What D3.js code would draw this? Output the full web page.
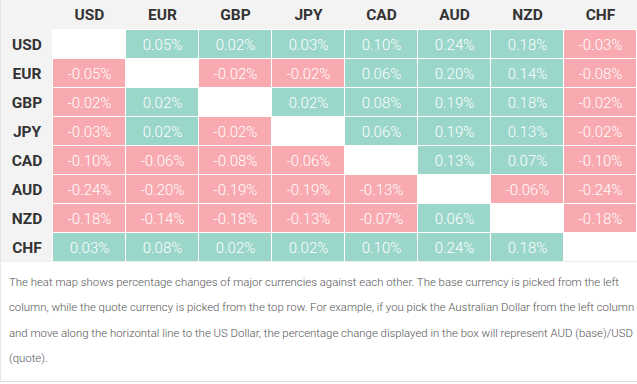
<!DOCTYPE html>
<html>
<head>
<meta charset="utf-8">
<script src="https://cdn.jsdelivr.net/npm/d3@7"></script>
<style>
  body { margin: 0; background: #fff; }
  svg { display: block; font-family: Roboto, sans-serif; }
</style>
</head>
<body>
<svg id="chart" width="637" height="384"></svg>
<script>
// currencies, base = row (left), quote = column (top)
var currencies = ["USD", "EUR", "GBP", "JPY", "CAD", "AUD", "NZD", "CHF"];

var usdRow = [null, 0.05, 0.02, 0.03, 0.10, 0.24, 0.18, -0.03];
var eurRow = [-0.05, null, -0.02, -0.02, 0.06, 0.20, 0.14, -0.08];
var gbpRow = [-0.02, 0.02, null, 0.02, 0.08, 0.19, 0.18, -0.02];
var jpyRow = [-0.03, 0.02, -0.02, null, 0.06, 0.19, 0.13, -0.02];
var cadRow = [-0.10, -0.06, -0.08, -0.06, null, 0.13, 0.07, -0.10];
var audRow = [-0.24, -0.20, -0.19, -0.19, -0.13, null, -0.06, -0.24];
var nzdRow = [-0.18, -0.14, -0.18, -0.13, -0.07, 0.06, null, -0.18];
var chfRow = [0.03, 0.08, 0.02, 0.02, 0.10, 0.24, 0.18, null];

var rows = [usdRow, eurRow, gbpRow, jpyRow, cadRow, audRow, nzdRow, chfRow];

var note = [
  "The heat map shows percentage changes of major currencies against each other. The base currency is picked from the left",
  "column, while the quote currency is picked from the top row. For example, if you pick the Australian Dollar from the left column",
  "and move along the horizontal line to the US Dollar, the percentage change displayed in the box will represent AUD (base)/USD",
  "(quote)."
];

var svg = d3.select("#chart");
var W = 637, H = 384;

var x = d3.scaleBand().domain(currencies).range([53, 637]);
var y = d3.scaleBand().domain(currencies).range([30, 262]);

// plain hyphen for negatives like the original table
var fmt = d3.formatLocale({ decimal: ".", thousands: ",", grouping: [3], currency: ["", ""], minus: "-" }).format(".2f");

// grey header row and left column
svg.append("rect").attr("x", 0).attr("y", 0).attr("width", W).attr("height", 29).attr("fill", "#f3f3f3");
svg.append("rect").attr("x", 0).attr("y", 0).attr("width", 52).attr("height", 262).attr("fill", "#f3f3f3");

// flatten
var cells = [];
rows.forEach(function (r, i) {
  r.forEach(function (v, j) {
    cells.push({ base: currencies[i], quote: currencies[j], value: v });
  });
});

var color = function (v) { return v >= 0 ? "#9ad6ca" : "#f8aab0"; };

var g = svg.append("g");
g.selectAll("rect.cell")
  .data(cells.filter(function (d) { return d.value !== null; }))
  .enter().append("rect")
  .attr("class", "cell")
  .attr("x", function (d) { return x(d.quote); })
  .attr("y", function (d) { return y(d.base); })
  .attr("width", x.bandwidth() - 1)
  .attr("height", y.bandwidth() - 1)
  .attr("fill", function (d) { return color(d.value); });

g.selectAll("text.val")
  .data(cells.filter(function (d) { return d.value !== null; }))
  .enter().append("text")
  .attr("class", "val")
  .attr("x", function (d) { return x(d.quote) + x.bandwidth() / 2; })
  .attr("y", function (d) { return y(d.base) + y.bandwidth() / 2; })
  .attr("dy", "0.35em")
  .attr("text-anchor", "middle")
  .attr("fill", "#fff")
  .attr("font-size", 15)
  .attr("font-weight", 300)
  .text(function (d) { return fmt(d.value) + "%"; });

// column headers
svg.selectAll("text.colh")
  .data(currencies)
  .enter().append("text")
  .attr("class", "colh")
  .attr("x", function (d) { return x(d) + x.bandwidth() / 2; })
  .attr("y", 15)
  .attr("dy", "0.35em")
  .attr("text-anchor", "middle")
  .attr("fill", "#333")
  .attr("font-size", 15.5)
  .attr("font-weight", 700)
  .text(function (d) { return d; });

// row headers
svg.selectAll("text.rowh")
  .data(currencies)
  .enter().append("text")
  .attr("class", "rowh")
  .attr("x", 27)
  .attr("y", function (d) { return y(d) + y.bandwidth() / 2; })
  .attr("dy", "0.35em")
  .attr("text-anchor", "middle")
  .attr("fill", "#333")
  .attr("font-size", 15.5)
  .attr("font-weight", 700)
  .text(function (d) { return d; });

// description text
svg.selectAll("text.note")
  .data(note)
  .enter().append("text")
  .attr("class", "note")
  .attr("x", 9)
  .attr("y", function (d, i) { return 282 + i * 25.5; })
  .attr("dy", "0.35em")
  .attr("fill", "#555")
  .attr("font-size", 11.4)
  .attr("font-weight", 300)
  .text(function (d) { return d; });

// frame lines
svg.append("line").attr("x1", 0).attr("x2", W).attr("y1", 261.5).attr("y2", 261.5).attr("stroke", "#eee");
svg.append("line").attr("x1", 0).attr("x2", W).attr("y1", 381.5).attr("y2", 381.5).attr("stroke", "#ddd");
svg.append("line").attr("x1", 0.5).attr("x2", 0.5).attr("y1", 0).attr("y2", 382).attr("stroke", "#e6e6e6");
</script>
</body>
</html>
